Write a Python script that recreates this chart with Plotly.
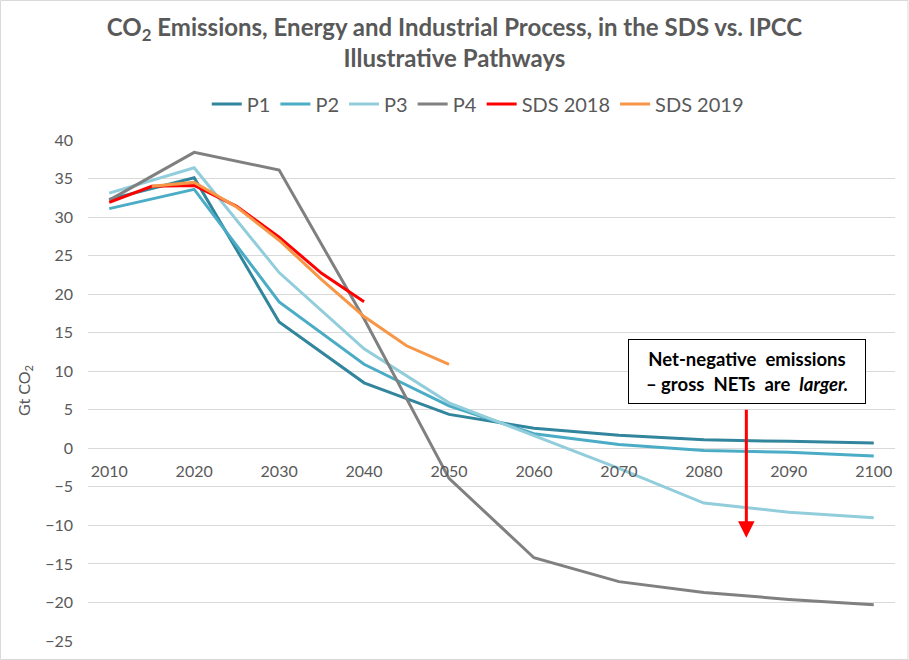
import plotly.graph_objects as go

# ---- data ----
years_ipcc = [2010, 2020, 2030, 2040, 2050, 2060, 2070, 2080, 2090, 2100]
p1 = [32.3, 35.1, 16.4, 8.5, 4.4, 2.6, 1.7, 1.1, 0.9, 0.7]
p2 = [31.1, 33.6, 19.0, 10.9, 5.5, 1.9, 0.5, -0.3, -0.5, -1.0]
p3 = [33.1, 36.4, 22.8, 12.9, 5.9, 1.7, -2.6, -7.1, -8.3, -9.0]
p4 = [32.2, 38.4, 36.1, 16.8, -3.9, -14.2, -17.3, -18.7, -19.6, -20.3]

years_sds2018 = [2010, 2015, 2020, 2025, 2030, 2035, 2040]
sds2018 = [31.9, 34.0, 34.1, 31.4, 27.4, 22.7, 19.0]

years_sds2019 = [2015, 2020, 2025, 2030, 2035, 2040, 2045, 2050]
sds2019 = [34.0, 34.5, 31.3, 27.0, 21.9, 17.1, 13.3, 10.9]

x_ticks = [2010, 2020, 2030, 2040, 2050, 2060, 2070, 2080, 2090, 2100]
y_ticks = [40, 35, 30, 25, 20, 15, 10, 5, 0, -5, -10, -15, -20, -25]

series = [
    ("P1", years_ipcc, p1, "#31859C"),
    ("P2", years_ipcc, p2, "#4BACC6"),
    ("P3", years_ipcc, p3, "#92CDDC"),
    ("P4", years_ipcc, p4, "#808080"),
    ("SDS 2018", years_sds2018, sds2018, "#FF0000"),
    ("SDS 2019", years_sds2019, sds2019, "#F79646"),
]

FONT = "Lato"
GREY = "#595959"

fig = go.Figure()
for name, xs, ys, col in series:
    fig.add_trace(go.Scatter(x=xs, y=ys, name=name, mode="lines",
                             line=dict(color=col, width=3)))

W, H = 909, 660
ml, mr, mt, mb = 88, 13.5, 140, 19
pw = W - ml - mr
ph = H - mt - mb
ymin, ymax = -25, 40

def px_x(p):
    return (p - ml) / pw

def px_y(p):
    return (H - mb - p) / ph

fig.update_layout(
    width=W, height=H,
    margin=dict(l=ml, r=mr, t=mt, b=mb, autoexpand=False),
    paper_bgcolor="white", plot_bgcolor="white",
    font=dict(family=FONT, color=GREY),
    title=dict(
        text="CO<sub>2</sub> Emissions, Energy and Industrial Process, in the SDS vs. IPCC<br>Illustrative Pathways",
        font=dict(family=FONT, size=24, color=GREY, weight="bold"),
        x=0.5, xref="container", xanchor="center",
        y=1 - 36 / H, yref="container", yanchor="top",
    ),
    showlegend=True,
    legend=dict(
        orientation="h", x=px_x(478), xanchor="center",
        y=px_y(104), yanchor="middle",
        font=dict(family=FONT, size=20, color=GREY),
        bgcolor="rgba(0,0,0,0)", traceorder="normal",
    ),
    xaxis=dict(
        range=[2007.5, 2102.5], tickvals=x_ticks,
        ticktext=[str(v) for v in x_ticks],
        showgrid=False, zeroline=False, showline=False,
        anchor="free", position=(0 - ymin) / (ymax - ymin),
        ticks="", ticklabelstandoff=12,
        tickfont=dict(family=FONT, size=16, color=GREY),
    ),
    yaxis=dict(
        range=[ymin, ymax], tickvals=y_ticks,
        showgrid=True, gridcolor="#D9D9D9", gridwidth=1,
        zeroline=False, showline=False, ticks="",
        ticklabelstandoff=14,
        tickfont=dict(family=FONT, size=16, color=GREY),
        title=dict(text="Gt CO<sub>2</sub>", standoff=10,
                   font=dict(family=FONT, size=16, color=GREY)),
    ),
)

# outer chart border
fig.add_shape(type="rect", xref="paper", yref="paper",
              x0=px_x(0.5), x1=px_x(908.5), y0=px_y(659.5), y1=px_y(0.5),
              line=dict(color="#D9D9D9", width=1), fillcolor="rgba(0,0,0,0)",
              layer="below")

# red arrow
fig.add_annotation(x=2085, y=-11.6, ax=2085, ay=5.2, xref="x", yref="y",
                   axref="x", ayref="y", text="", showarrow=True,
                   arrowhead=2, arrowsize=1.1, arrowwidth=3, arrowcolor="#FF0000")

# text box
fig.add_annotation(
    x=2085.1, y=10, xref="x", yref="y", showarrow=False,
    text="<b>Net-negative&nbsp;&nbsp;emissions<br>–&nbsp;gross&nbsp;&nbsp;NETs&nbsp;&nbsp;are&nbsp;&nbsp;<i>larger.</i></b>",
    font=dict(family=FONT, size=18.5, color="black"),
    align="center", width=232, height=59, borderpad=2,
    bordercolor="black", borderwidth=1, bgcolor="white",
)

fig.write_html("out.html", config={"displayModeBar": False},
               post_script="document.body.style.margin='0';")
